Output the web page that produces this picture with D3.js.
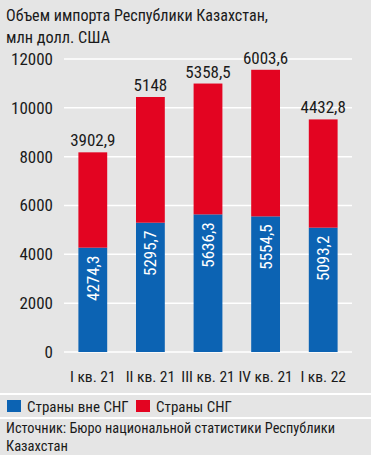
<!DOCTYPE html>
<html>
<head>
<meta charset="utf-8">
<script src="https://cdn.jsdelivr.net/npm/d3@7"></script>
<style>
	body { margin: 0; background: #e5e5e5; }
	svg { display: block; }
	text { font-family: "Liberation Sans Narrow", "Roboto Condensed", "Noto Sans", sans-serif; fill: #1a1a1a; }
</style>
</head>
<body>
<div class="chart"></div>
<script>
//data
const quarters = ['I кв. 21', 'II кв. 21', 'III кв. 21', 'IV кв. 21', 'I кв. 22'];
const outsideCis = [4274.3, 5295.7, 5636.3, 5554.5, 5093.2]; //Страны вне СНГ
const insideCis = [3902.9, 5148, 5358.5, 6003.6, 4432.8]; //Страны СНГ
const yTicks = [0, 2000, 4000, 6000, 8000, 10000, 12000];
const seriesNames = ['Страны вне СНГ', 'Страны СНГ'];

const blue = '#0c63b3';
const red = '#e30421';

const W = 371;
const H = 455;
const margin = { top: 59, right: 19, bottom: 103, left: 64 };
const width = W - margin.left - margin.right;
const height = H - margin.top - margin.bottom;

const fmt = (v) => String(v).replace('.', ',');

const svg = d3
	.select('.chart')
	.append('svg')
	.attr('width', W)
	.attr('height', H);

//title
svg.append('text').attr('x', 6).attr('y', 21).style('font-size', '16px').attr('textLength', 262).attr('lengthAdjust', 'spacingAndGlyphs').text('Объем импорта Республики Казахстан,');
svg.append('text').attr('x', 6).attr('y', 43).style('font-size', '16px').attr('textLength', 104).attr('lengthAdjust', 'spacingAndGlyphs').text('млн долл. США');

const g = svg.append('g').attr('transform', `translate(${margin.left}, ${margin.top})`);

const x = d3.scaleBand().domain(quarters).range([ 0, width ]).paddingInner(0.5).paddingOuter(0.25);
const y = d3.scaleLinear().domain([ 0, 12000 ]).range([ height, 0 ]);

//gridlines
g
	.selectAll('.grid')
	.data(yTicks)
	.enter()
	.append('line')
	.attr('x1', 0)
	.attr('x2', width)
	.attr('y1', (d) => y(d))
	.attr('y2', (d) => y(d))
	.attr('stroke', '#ffffff')
	.attr('stroke-width', 1.5);

//y axis labels
const yAxis = g.append('g').call(d3.axisLeft(y).tickValues(yTicks).tickFormat(d3.format('d')).tickSize(0).tickPadding(11));
yAxis.select('.domain').remove();
yAxis.selectAll('text').style('font-size', '17px').attr('fill', '#1a1a1a').style('font-family', null);

//x axis labels
const xAxis = g.append('g').attr('transform', `translate(0, ${height})`).call(d3.axisBottom(x).tickSize(0).tickPadding(19));
xAxis.select('.domain').remove();
xAxis.selectAll('text').style('font-size', '15.5px').attr('fill', '#1a1a1a').style('font-family', null);

const rows = quarters.map((q, i) => ({ q: q, a: outsideCis[i], b: insideCis[i] }));

//blue part
g
	.selectAll('.bar-a')
	.data(rows)
	.enter()
	.append('rect')
	.attr('x', (d) => x(d.q))
	.attr('width', x.bandwidth())
	.attr('y', (d) => y(d.a))
	.attr('height', (d) => height - y(d.a))
	.attr('fill', blue);

//red part on top
g
	.selectAll('.bar-b')
	.data(rows)
	.enter()
	.append('rect')
	.attr('x', (d) => x(d.q))
	.attr('width', x.bandwidth())
	.attr('y', (d) => y(d.a + d.b))
	.attr('height', (d) => y(d.a) - y(d.a + d.b))
	.attr('fill', red);

//values inside the blue part, rotated
g
	.selectAll('.lab-a')
	.data(rows)
	.enter()
	.append('text')
	.attr('transform', (d) => `translate(${x(d.q) + x.bandwidth() / 2 + 6}, ${y(d.a) + 8}) rotate(-90)`)
	.style('text-anchor', 'end')
	.style('font-size', '17px')
	.style('fill', '#ffffff')
	.text((d) => fmt(d.a));

//values above the bars
g
	.selectAll('.lab-b')
	.data(rows)
	.enter()
	.append('text')
	.attr('x', (d) => x(d.q) + x.bandwidth() / 2)
	.attr('y', (d) => y(d.a + d.b) - 6)
	.style('text-anchor', 'middle')
	.style('font-size', '17px')
	.text((d) => fmt(d.b));

//separators
svg.append('line').attr('x1', 0).attr('x2', W).attr('y1', 394).attr('y2', 394).attr('stroke', '#fff').attr('stroke-width', 2);
svg.append('line').attr('x1', 0).attr('x2', W).attr('y1', 418).attr('y2', 418).attr('stroke', '#fff').attr('stroke-width', 2);

//legend
const legendX = [7, 136];
const legend = svg
	.selectAll('.legend')
	.data(seriesNames)
	.enter()
	.append('g')
	.attr('transform', (d, i) => `translate(${legendX[i]}, 400)`);
legend.append('rect').attr('width', 14).attr('height', 12).attr('fill', (d, i) => (i === 0 ? blue : red));
legend.append('text').attr('x', 20).attr('y', 12).style('font-size', '15px').text((d) => d);

//source
svg.append('text').attr('x', 6).attr('y', 433).style('font-size', '15px').attr('textLength', 329).attr('lengthAdjust', 'spacingAndGlyphs').text('Источник: Бюро национальной статистики Республики');
svg.append('text').attr('x', 6).attr('y', 451).style('font-size', '15px').attr('textLength', 62).attr('lengthAdjust', 'spacingAndGlyphs').text('Казахстан');
</script>
</body>
</html>
